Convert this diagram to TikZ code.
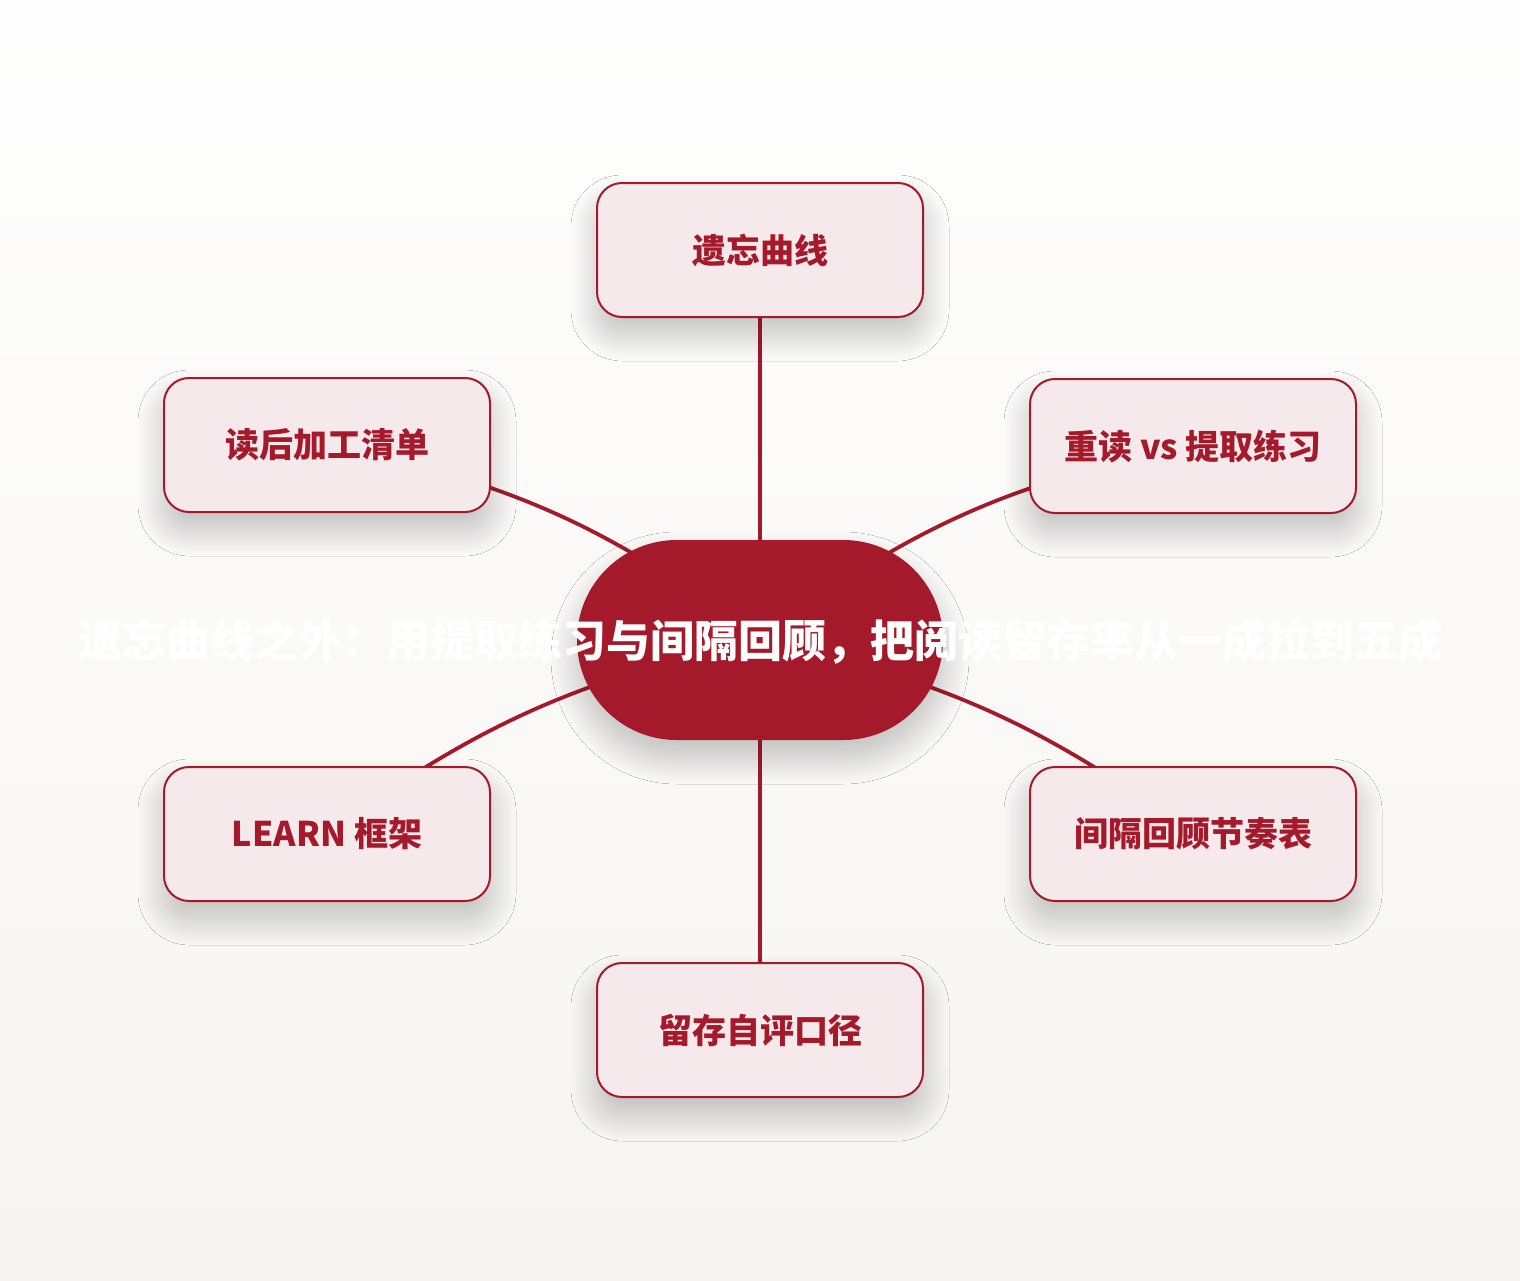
\documentclass[tikz,border=0pt]{standalone}
\usepackage{fontspec}
\setmainfont{Noto Sans CJK SC}
\usetikzlibrary{shadows.blur,backgrounds}
\definecolor{deepred}{HTML}{A51A2B}
\definecolor{palered}{HTML}{F5E9EC}
\definecolor{bgtop}{HTML}{FEFEFE}
\definecolor{bgbot}{HTML}{F7F5F1}

\begin{document}
\begin{tikzpicture}[x=0.5pt, y=-0.5pt,
  softshadow/.style={blur shadow={shadow xshift=0pt, shadow yshift=-9pt,
      shadow blur radius=13pt, shadow blur steps=30, shadow opacity=24}},
  topic/.style={draw=deepred, line width=1pt, fill=palered, rounded corners=12.5pt,
      minimum width=163pt, minimum height=67pt, text=deepred,
      font=\bfseries\fontsize{17pt}{20pt}\selectfont, softshadow},
  hubnode/.style={fill=deepred, rounded corners=49.9pt,
      minimum width=183pt, minimum height=100pt, softshadow},
  link/.style={draw=deepred, line width=1.9pt}]

  %% canvas, 1 unit = 1 px of the reference
  \useasboundingbox (0,0) rectangle (1520,1280);

  %% centre
  \node[hubnode] (hub) at (760,640) {};
  \node[text=white, font=\bfseries\fontsize{22pt}{26pt}\selectfont] (title) at (760,642)
    {遗忘曲线之外：用提取练习与间隔回顾，把阅读留存率从一成拉到五成};

  %% topics
  \node[topic] (curve)     at (760,250)  {遗忘曲线};
  \node[topic] (checklist) at (327,445)  {读后加工清单};
  \node[topic] (retrieval) at (1193,446) {重读 vs 提取练习};
  \node[topic] (learn)     at (327,834)  {LEARN 框架};
  \node[topic] (spacing)   at (1193,834) {间隔回顾节奏表};
  \node[topic] (selfcheck) at (760,1030) {留存自评口径};

  \begin{scope}[on background layer]
    \fill[top color=bgtop, bottom color=bgbot] (0,0) rectangle (1520,1280);

    \draw[link] (hub.center) -- (curve.center);                   % hub -> top
    \draw[link] (hub.center) to[bend right=13] (checklist.center); % hub -> upper left
    \draw[link] (hub.center) to[bend left=13] (retrieval.center);  % hub -> upper right
    \draw[link] (hub.center) to[bend right=12] (learn.center);     % hub -> lower left
    \draw[link] (hub.center) to[bend left=12] (spacing.center);    % hub -> lower right
    \draw[link] (hub.center) -- (selfcheck.center);               % hub -> bottom
  \end{scope}

\end{tikzpicture}
\end{document}
